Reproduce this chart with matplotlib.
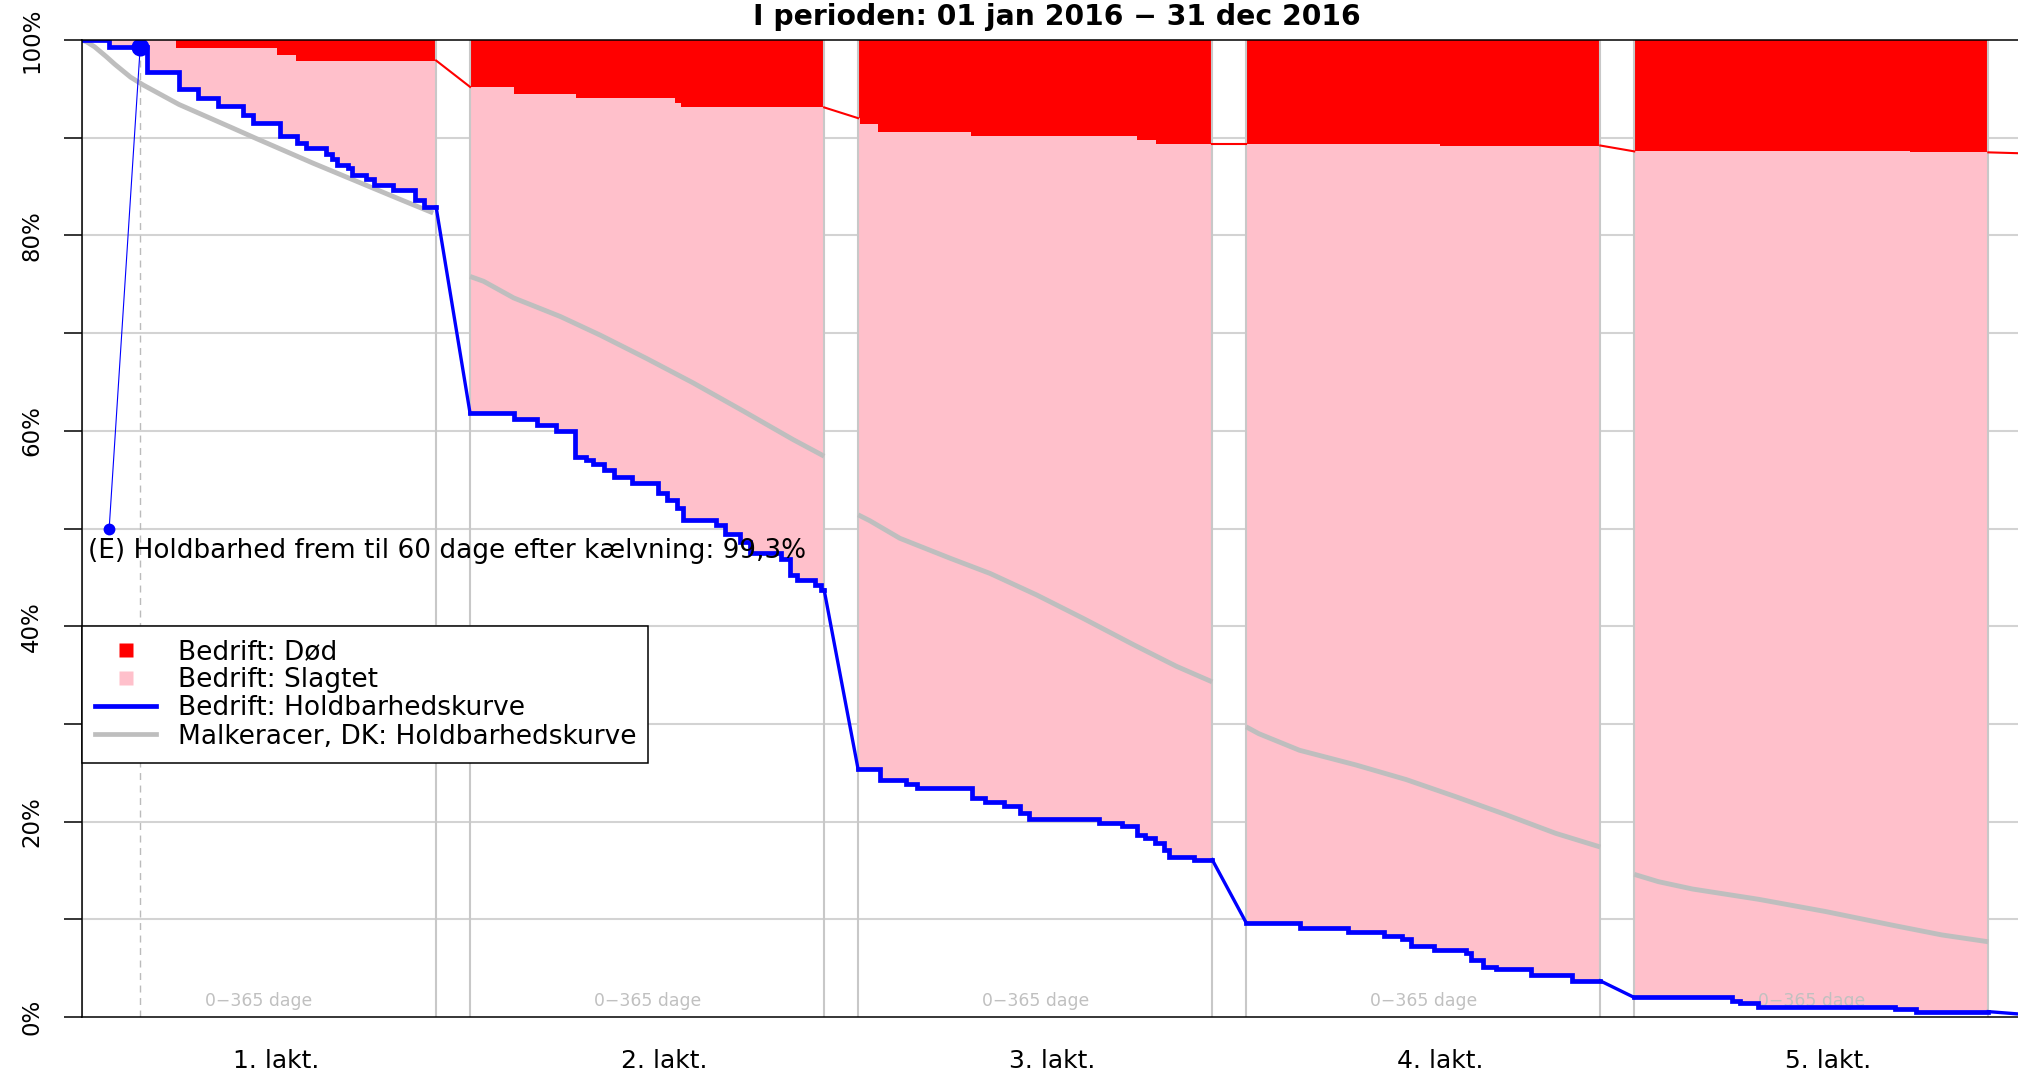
import numpy as np
import matplotlib
matplotlib.use("Agg")
import matplotlib.pyplot as plt
from matplotlib.lines import Line2D

# lactation blocks: 0-365 days each, one block every 400 days on the x axis
lakt_labels = ["1. lakt.", "2. lakt.", "3. lakt.", "4. lakt.", "5. lakt."]
block_step = 400
block_len = 365

# Bedrift: holdbarhedskurve (step changes, day in lactation -> %)
blue_days = [
    [0, 28, 67, 100, 120, 140, 166, 176, 204, 222, 231, 251, 258, 263, 274, 278, 293, 301, 321, 343, 353],
    [0, 45, 69, 89, 108, 120, 127, 138, 148, 167, 194, 203, 213, 220, 253, 263, 278, 289, 321, 330, 337, 356, 362],
    [0, 23, 49, 61, 117, 131, 150, 167, 176, 248, 272, 287, 296, 306, 315, 320, 346],
    [0, 55, 105, 142, 161, 170, 194, 227, 232, 244, 257, 294, 336],
    [0, 101, 109, 128, 269, 290],
]
blue_vals = [
    [100, 99.3, 96.75, 94.95, 94.1, 93.2, 92.3, 91.5, 90.2, 89.5, 88.9, 88.3, 87.8, 87.2, 86.9, 86.2, 85.8, 85.2, 84.6, 83.6, 82.9],
    [61.8, 61.2, 60.6, 60.0, 57.35, 57.0, 56.6, 56.0, 55.3, 54.7, 53.6, 52.9, 52.1, 50.9, 50.4, 49.4, 48.6, 47.5, 46.9, 45.2, 44.7, 44.2, 43.7],
    [25.35, 24.3, 23.85, 23.4, 22.45, 22.0, 21.6, 20.85, 20.3, 19.9, 19.5, 18.6, 18.3, 17.8, 17.1, 16.4, 16.1],
    [9.65, 9.1, 8.7, 8.3, 7.95, 7.3, 6.9, 6.5, 5.8, 5.15, 4.9, 4.3, 3.7],
    [2.0, 1.67, 1.4, 1.06, 0.82, 0.55],
]
blue_next = 0.28  # start of 6. lakt. (outside the picture)

# grænse mellem slagtet og død (step changes)
red_days = [
    [0, 97, 201, 221],
    [0, 45, 109, 211, 217],
    [0, 2, 20, 116, 287, 307],
    [0, 200],
    [0, 284],
]
red_vals = [
    [100, 99.15, 98.5, 97.9],
    [95.2, 94.5, 94.1, 93.6, 93.1],
    [92.0, 91.4, 90.55, 90.2, 89.8, 89.4],
    [89.4, 89.2],
    [88.6, 88.5],
]
red_next = 88.4

# Malkeracer, DK: holdbarhedskurve
gray_days = [
    [0, 5, 13, 25, 34, 50, 63, 100, 155, 180, 238, 284, 330, 362],
    [0, 14, 45, 93, 134, 182, 230, 282, 333, 365],
    [0, 12, 43, 95, 136, 184, 232, 284, 328, 365],
    [0, 13, 55, 113, 165, 216, 268, 319, 365],
    [0, 25, 60, 128, 197, 266, 317, 365],
]
gray_vals = [
    [100, 99.8, 99.3, 98.3, 97.5, 96.2, 95.4, 93.4, 91.0, 89.9, 87.4, 85.5, 83.6, 82.3],
    [75.8, 75.3, 73.6, 71.7, 69.8, 67.4, 64.9, 62.0, 59.1, 57.4],
    [51.4, 50.8, 49.0, 46.95, 45.4, 43.2, 40.8, 38.1, 35.9, 34.3],
    [29.7, 29.0, 27.3, 25.8, 24.3, 22.55, 20.7, 18.8, 17.4],
    [14.6, 13.85, 13.1, 12.05, 10.8, 9.4, 8.4, 7.7],
]

# (E) holdbarhed frem til 60 dage
e_days = [28, 60]
e_vals = [50, 99.3]
e_text = "(E) Holdbarhed frem til 60 dage efter kælvning: 99,3%"

title = "I perioden: 01 jan 2016 \u2212 31 dec 2016"


def step_at(days, vals, grid):
    idx = np.searchsorted(np.asarray(days), grid, side="right") - 1
    return np.asarray(vals, dtype=float)[idx]


W, H = 2018, 1072
fig = plt.figure(figsize=(W / 100, H / 100), dpi=100)
ax = fig.add_axes([82 / W, 55 / H, 1950 / W, 977 / H])
ax.set_xlim(0, 2010)
ax.set_ylim(0, 1)

# horizontal grid
for g in np.arange(0.1, 1.0, 0.1):
    ax.axhline(g, color="#d3d3d3", lw=1.5, zorder=0)

n = len(lakt_labels)
for k in range(n):
    s = k * block_step
    grid = np.union1d(np.union1d(blue_days[k], red_days[k]), [block_len])
    b = step_at(blue_days[k], blue_vals[k], grid) / 100
    r = step_at(red_days[k], red_vals[k], grid) / 100
    ax.fill_between(s + grid, b, r, step="post", color="#FFC0CB", lw=0, zorder=1)
    ax.fill_between(s + grid, r, 1, step="post", color="#FF0000", lw=0, zorder=1)

    for xv in (s, s + block_len):
        ax.axvline(xv, color="#c8c8c8", lw=1.5, zorder=2)

    # reference curve
    ax.plot(s + np.asarray(gray_days[k]), np.asarray(gray_vals[k]) / 100,
            color="#BEBEBE", lw=3.5, zorder=3, solid_capstyle="butt")

    # company curve as steps
    xs = list(blue_days[k]) + [block_len]
    ys = list(blue_vals[k]) + [blue_vals[k][-1]]
    ax.plot(s + np.asarray(xs), np.asarray(ys) / 100, color="#0000FF", lw=3.4,
            drawstyle="steps-post", zorder=4, solid_joinstyle="miter")

    # connectors to next lactation
    nb = blue_vals[k + 1][0] if k + 1 < n else blue_next
    nr = red_vals[k + 1][0] if k + 1 < n else red_next
    ax.plot([s + block_len, s + block_step], [blue_vals[k][-1] / 100, nb / 100],
            color="#0000FF", lw=2.4, zorder=4)
    ax.plot([s + block_len, s + block_step], [red_vals[k][-1] / 100, nr / 100],
            color="#FF0000", lw=1.5, zorder=3)

    ax.text(s + block_len / 2, 0.0164, "0\u2212365 dage", ha="center", va="center",
            color="#c0c0c0", fontsize=12.4, zorder=2)
    ax.text(s + 200, -0.0522, lakt_labels[k], ha="center", va="baseline",
            fontsize=18, transform=ax.get_xaxis_transform(), clip_on=False)

# 60 dage marker
ax.axvline(e_days[1], color="#bbbbbb", lw=1, ls=(0, (5, 4)), zorder=2)
ax.plot(e_days, np.asarray(e_vals) / 100, color="#0000FF", lw=0.8, zorder=5)
ax.plot(e_days[0], e_vals[0] / 100, "o", color="#0000FF", ms=8.5, mec="none", zorder=5)
ax.plot(e_days[1], e_vals[1] / 100, "o", color="#0000FF", ms=13, mec="none", zorder=5)
ax.text(6, 0.4698, e_text, fontsize=18.9, va="baseline", ha="left", zorder=6)

# axes styling
yt = np.arange(0, 1.01, 0.1)
ax.set_yticks(yt)
ax.set_yticklabels([f"{int(round(v * 100))}%" if i % 2 == 0 else "" for i, v in enumerate(yt)],
                   rotation=90, va="center")
ax.tick_params(axis="y", length=13, width=1.1, pad=15, labelsize=16.5, direction="out")
ax.set_xticks([])
for side in ("left", "bottom", "top", "right"):
    ax.spines[side].set_linewidth(1.1)
    ax.spines[side].set_color("black")
    ax.spines[side].set_zorder(7)

ax.set_title(title, fontsize=20.3, fontweight="bold", y=1.0153, pad=0)

handles = [
    Line2D([], [], marker="s", ls="none", color="#FF0000", ms=10.5, mec="none"),
    Line2D([], [], marker="s", ls="none", color="#FFC0CB", ms=10.5, mec="none"),
    Line2D([], [], color="#0000FF", lw=3.4),
    Line2D([], [], color="#BEBEBE", lw=3.4),
]
labels = ["Bedrift: Død", "Bedrift: Slagtet", "Bedrift: Holdbarhedskurve",
          "Malkeracer, DK: Holdbarhedskurve"]
leg = fig.legend(handles, labels, loc="upper left",
                 bbox_to_anchor=(82 / W, 1 - 626 / H, 566 / W, 0),
                 bbox_transform=fig.transFigure, mode="expand", borderaxespad=0,
                 fontsize=19, handlelength=2.3, handletextpad=0.85,
                 labelspacing=0.08, borderpad=0.5, fancybox=False,
                 framealpha=1, edgecolor="black")
leg.get_frame().set_linewidth(1.1)
leg.set_zorder(10)

fig.savefig("out.png", dpi=100)
